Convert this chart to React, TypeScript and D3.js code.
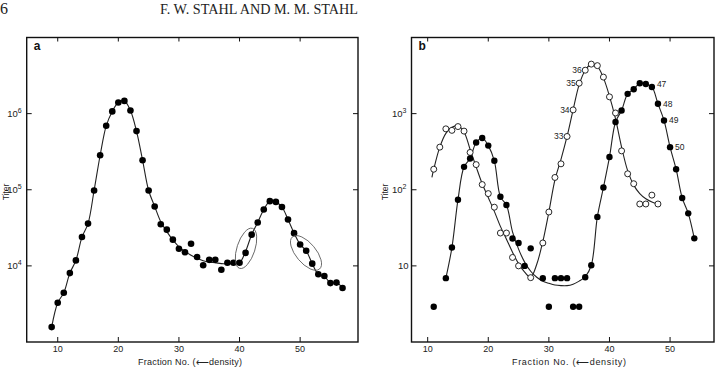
import React from 'react';
import * as d3 from 'd3';

const W = 718;
const H = 368;

// ---------- Panel a data ----------
const fracA = [9,10,11,12,13,14,15,16,17,18,19,20,21,22,23,24,25,26,27,28,29,30,31,32,33,34,35,36,37,38,39,40,41,42,43,44,45,46,47,48,49,50,51,52,53,54,55,56,57];
const titerA = [1570,3280,4440,8040,11800,23900,35900,97700,284000,692000,1070000,1400000,1470000,1100000,589000,244000,97700,60300,35200,29900,22100,16800,15100,19500,13100,10200,12000,12000,8900,11000,11000,11000,14800,25700,37200,55000,70800,69200,59400,40700,26900,19100,15800,10700,7760,7350,5940,6030,5130];
const fitFracA = [9,10,11,12,13,14,15,16,17,18,19,20,21,22,23,24,25,26,27,28,29,30,31,32,33,34,35,36,37,38,39,40,41,42,43,44,45,46,47,48,49,50,51,52,53,54,55,56,57];
const fitTiterA = [1570,3280,4440,8040,11800,23900,35900,97700,284000,692000,1070000,1400000,1470000,1100000,589000,244000,97700,60300,38000,28200,21900,17800,15500,13800,12600,11700,11200,11000,10700,10700,10800,11000,15500,25700,37200,55000,70800,69200,59400,40700,26900,19100,15800,10700,7760,7350,5940,6030,5130];
const circledFrac = [41.07, 50.97];
const circledTiter = [17000, 14800];

// ---------- Panel b data ----------
const fracOpen = [11,12,13,14,15,16,17,18,19,20,21,22,23,24,25,27,29,30,31,32,33,34,35,36,37,38,39,40,41,42,43,44,45,46,47,48];
const titerOpen = [186,363,631,603,676,589,309,214,117,89,59,27,27,12.9,10,7.0,20,51,145,219,501,1120,2510,3720,4470,4270,3020,1660,1020,324,162,120,65,65,85,65];
const fitFracOpen = [10.7,11,12,13,14,15,16,17,18,19,20,21,22,23,24,25,26,27,28,29,30,31,32,33,34,35,36,37,38,39,40,41,42,43,44,45,46,47,48];
const fitTiterOpen = [145,186,363,550,661,692,575,339,200,120,79,52,33,22.4,15.1,10.7,8.3,7.1,10.5,20.9,51,135,251,501,1120,2400,3720,4470,4170,2950,1700,851,363,178,115,89,76,69,65];

const fracClosed = [11,13,14,15,16,17,18,19,20,21,22,23,24,25,26,27,29,30,31,32,33,34,35,36,37,38,39,40,41,42,43,44,45,46,47,48,49,50,51,52,53,54];
const titerClosed = [2.9,6.9,17.4,74,200,257,417,479,380,240,81,63,22.9,20,10,17,6.9,2.9,6.9,6.9,6.9,2.9,2.9,7.1,10.2,44,107,269,776,1100,1820,2090,2510,2450,2240,1350,813,363,186,78,49,23];
const fitFracClosed = [13,14,15,16,17,18,19,20,21,22,23,24,25,26,27,28,29,30,31,32,33,34,35,36,37,38,39,40,41,42,43,44,45,46,47,48,49,50,51,52,53,54];
const fitTiterClosed = [6.9,17.4,74,200,257,417,479,380,240,81,63,28,16.6,11.2,8.5,7.1,6.3,5.9,5.6,5.5,5.5,5.75,6.3,7.2,10.2,44,107,269,776,1100,1820,2090,2510,2450,2240,1350,813,363,186,78,49,23];

const openLabelFrac = [33, 34, 35, 36];
const closedLabelFrac = [47, 48, 49, 50];

// ---------- ticks ----------
const xTicks = [10, 20, 30, 40, 50];
const yTicksA = [1e4, 1e5, 1e6];
const yTickExpA = ['4', '5', '6'];
const yTicksB = [10, 100, 1000];
const yTickExpB = ['', '2', '3'];

const header = 'F. W. STAHL AND M. M. STAHL';
const pageNo = '6';
const xTitle = 'Fraction No. (\u27F5density)';
const yTitle = 'Titer';

const FONT = 'Liberation Sans, Arial, sans-serif';

type PanelProps = {
  left: number; right: number; top: number; bottom: number;
  xDomain: [number, number]; yDomain: [number, number];
  yTicks: number[]; yExp: string[]; letter: string;
  titleCx: number; titleW: number; yTitleX: number;
  children: (x: d3.ScaleLinear<number, number>, y: d3.ScaleLogarithmic<number, number>) => React.ReactNode;
};

function Panel(p: PanelProps) {
  const x = d3.scaleLinear().domain(p.xDomain).range([p.left, p.right]);
  const y = d3.scaleLog().domain(p.yDomain).range([p.bottom, p.top]);
  return (
    <g>
      <rect x={p.left} y={p.top} width={p.right - p.left} height={p.bottom - p.top} fill="none" stroke="#111" strokeWidth={1.4} />
      {xTicks.map((t) => (
        <g key={'xt' + t}>
          <line x1={x(t)} x2={x(t)} y1={p.bottom} y2={p.bottom - 5} stroke="#111" strokeWidth={1} />
          <line x1={x(t)} x2={x(t)} y1={p.top} y2={p.top + 4} stroke="#111" strokeWidth={1} />
          <text x={x(t)} y={p.bottom + 10} textAnchor="middle" fontSize={9} fontFamily={FONT} fill="#222">{t}</text>
        </g>
      ))}
      {p.yTicks.map((t, i) => (
        <g key={'yt' + t}>
          <line x1={p.left} x2={p.left + 5} y1={y(t)} y2={y(t)} stroke="#111" strokeWidth={1} />
          <line x1={p.right} x2={p.right - 5} y1={y(t)} y2={y(t)} stroke="#111" strokeWidth={1} />
          <text x={p.left - (p.yExp[i] ? 5 : 3)} y={y(t) + 3.5} textAnchor="end" fontSize={9.5} fontFamily={FONT} fill="#222">
            10
            {p.yExp[i] ? <tspan dy={-4} fontSize={7}>{p.yExp[i]}</tspan> : null}
          </text>
        </g>
      ))}
      <text x={p.left + 7} y={p.top + 12} fontSize={12} fontWeight="bold" fontFamily={FONT} fill="#111">{p.letter}</text>
      <text x={p.titleCx} y={p.bottom + 23} textAnchor="middle" fontSize={9} fontFamily={FONT} fill="#222"
        textLength={p.titleW} lengthAdjust="spacing">{xTitle}</text>
      <text transform={`translate(${p.yTitleX},192) rotate(-90)`} textAnchor="middle"
        fontSize={8.5} fontFamily={FONT} fill="#222">{yTitle}</text>
      {p.children(x, y)}
    </g>
  );
}

export default function App() {
  const lineGen = (x: any, y: any) =>
    d3.line<[number, number]>().x((d) => x(d[0])).y((d) => y(d[1])).curve(d3.curveCatmullRom.alpha(0.5));
  const zip = (a: number[], b: number[]) => a.map((v, i) => [v, b[i]] as [number, number]);

  return (
    <svg width={W} height={H} style={{ position: 'absolute', left: 0, top: 0, background: '#fff' }}>
      <rect width={W} height={H} fill="#fff" />
      <text x={0} y={14} fontSize={16} fontFamily="Liberation Serif, serif" fill="#222">{pageNo}</text>
      <text x={259} y={14} textAnchor="middle" fontSize={15} fontFamily="Liberation Serif, serif" fill="#222"
        textLength={198} lengthAdjust="spacingAndGlyphs">{header}</text>

      <Panel left={26.7} right={358} top={37.5} bottom={342} xDomain={[4.88, 59.55]} yDomain={[1e3, 1e7]}
        yTicks={yTicksA} yExp={yTickExpA} letter="a" titleCx={190} titleW={104} yTitleX={8.5}>
        {(x, y) => (
          <g>
            <path d={lineGen(x, y)(zip(fitFracA, fitTiterA)) || ''} fill="none" stroke="#222" strokeWidth={1.1} />
            {fracA.map((f, i) => (
              <circle key={'a' + f} cx={x(f)} cy={y(titerA[i])} r={3.3} fill="#000" />
            ))}
            <ellipse cx={x(circledFrac[0])} cy={y(circledTiter[0])} rx={9} ry={21}
              transform={`rotate(18 ${x(circledFrac[0])} ${y(circledTiter[0])})`} fill="none" stroke="#555" strokeWidth={0.8} />
            <ellipse cx={x(circledFrac[1])} cy={y(circledTiter[1])} rx={10} ry={21}
              transform={`rotate(-40 ${x(circledFrac[1])} ${y(circledTiter[1])})`} fill="none" stroke="#555" strokeWidth={0.8} />
          </g>
        )}
      </Panel>

      <Panel left={411.5} right={714} top={37.5} bottom={342} xDomain={[7.33, 57.25]} yDomain={[1, 1e4]}
        yTicks={yTicksB} yExp={yTickExpB} letter="b" titleCx={569} titleW={114} yTitleX={388}>
        {(x, y) => (
          <g>
            <path d={lineGen(x, y)(zip(fitFracOpen, fitTiterOpen)) || ''} fill="none" stroke="#222" strokeWidth={1.1} />
            <path d={lineGen(x, y)(zip(fitFracClosed, fitTiterClosed)) || ''} fill="none" stroke="#222" strokeWidth={1.1} />
            {fracOpen.map((f, i) => (
              <circle key={'o' + f} cx={x(f)} cy={y(titerOpen[i])} r={3} fill="#fff" stroke="#111" strokeWidth={0.9} />
            ))}
            {fracClosed.map((f, i) => (
              <circle key={'c' + f} cx={x(f)} cy={y(titerClosed[i])} r={3.2} fill="#000" />
            ))}
            {openLabelFrac.map((f) => (
              <text key={'ol' + f} x={x(f) - 3.5} y={y(titerOpen[fracOpen.indexOf(f)]) + 3} textAnchor="end"
                fontSize={8.5} fontFamily={FONT} fill="#222">{f}</text>
            ))}
            {closedLabelFrac.map((f) => (
              <text key={'cl' + f} x={x(f) + 5} y={y(titerClosed[fracClosed.indexOf(f)]) + (f === 47 ? 0 : 3)} textAnchor="start"
                fontSize={8.5} fontFamily={FONT} fill="#222">{f}</text>
            ))}
          </g>
        )}
      </Panel>
    </svg>
  );
}
